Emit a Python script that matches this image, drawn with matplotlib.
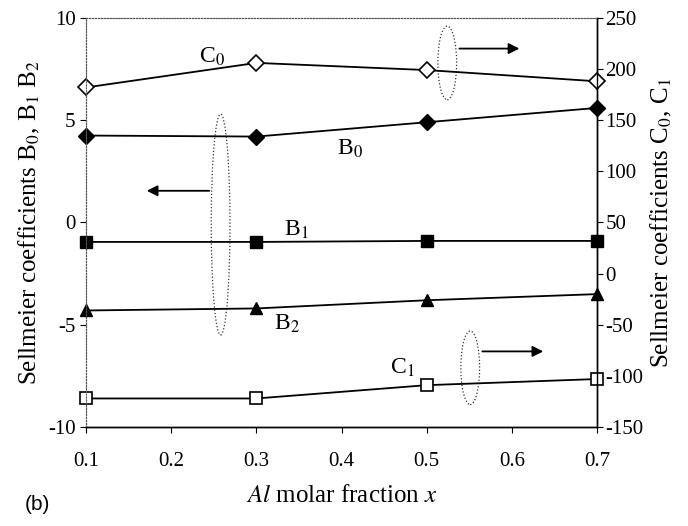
import matplotlib.pyplot as plt
from matplotlib.patches import Ellipse

# --- dati ---
x_al = [0.1, 0.3, 0.5, 0.7]

b0 = [4.25, 4.2, 4.9, 5.6]
b1 = [-0.95, -0.95, -0.9, -0.9]
b2 = [-4.3, -4.2, -3.8, -3.5]

c0 = [182, 206, 199, 188]
c1 = [-122, -122, -109, -103]

x_ticks = [0.1, 0.2, 0.3, 0.4, 0.5, 0.6, 0.7]
left_ticks = [-10, -5, 0, 5, 10]
right_ticks = [-150, -100, -50, 0, 50, 100, 150, 200, 250]

plt.rcParams['font.family'] = ['Liberation Serif', 'DejaVu Serif']
plt.rcParams['mathtext.fontset'] = 'stix'
plt.rcParams['axes.unicode_minus'] = False

fig = plt.figure(figsize=(6.88, 5.26), dpi=100)
ax = fig.add_axes([0.125, 0.188, 0.743, 0.778])
ax2 = ax.twinx()

line_kw = dict(color='black', linewidth=1.3, clip_on=False)

# serie asse sinistro
ax.plot(x_al, b0, marker='D', markersize=8, markerfacecolor='black', markeredgecolor='black', **line_kw)
ax.plot(x_al, b1, marker='s', markersize=9, markerfacecolor='black', markeredgecolor='black', **line_kw)
ax.plot(x_al, b2, marker='^', markersize=9, markerfacecolor='black', markeredgecolor='black', **line_kw)

# serie asse destro
ax2.plot(x_al, c0, marker='D', markersize=8, markerfacecolor='white', markeredgecolor='black', markeredgewidth=1.2, **line_kw)
ax2.plot(x_al, c1, marker='s', markersize=9, markerfacecolor='white', markeredgecolor='black', markeredgewidth=1.2, **line_kw)

ax.set_xlim(0.1, 0.7)
ax.set_ylim(-10, 10)
ax2.set_ylim(-150, 250)
ax.set_xticks(x_ticks)
ax.set_xticklabels([f"{t:.1f}" for t in x_ticks])
ax.set_yticks(left_ticks)
ax2.set_yticks(right_ticks)

ax.tick_params(axis='both', labelsize=15, direction='out', length=4, width=0.8)
ax.tick_params(axis='x', pad=14)
ax2.tick_params(axis='y', labelsize=15, direction='out', length=4, width=0.8, pad=2)

# bordi: sopra e sinistra tratteggiati
for a in (ax, ax2):
    a.spines['top'].set_linestyle(':')
    a.spines['top'].set_color('#555555')
    a.spines['left'].set_linestyle(':')
    a.spines['left'].set_color('#555555')
    a.spines['bottom'].set_linewidth(1.0)
    a.spines['right'].set_linewidth(1.0)

ax.set_ylabel(r"Sellmeier coefficients B$_0$, B$_1$ B$_2$", fontsize=18, labelpad=4)
ax2.set_ylabel(r"Sellmeier coefficients C$_0$, C$_1$", fontsize=18, labelpad=4)
ax.set_xlabel(r"$\it{Al}$ molar fraction $\it{x}$", fontsize=18, labelpad=10)

# etichette delle curve
ax.text(0.248, 8.1, r"C$_0$", fontsize=17, ha='center', va='center')
ax.text(0.41, 3.6, r"B$_0$", fontsize=17, ha='center', va='center')
ax.text(0.347, -0.35, r"B$_1$", fontsize=17, ha='center', va='center')
ax.text(0.336, -4.95, r"B$_2$", fontsize=17, ha='center', va='center')
ax.text(0.471, -7.1, r"C$_1$", fontsize=17, ha='center', va='center')

# ellissi e frecce
ell_kw = dict(fill=False, linestyle=':', linewidth=0.9, edgecolor='#333333')
ax.add_patch(Ellipse((0.524, 7.8), 0.022, 3.6, **ell_kw))
ax.add_patch(Ellipse((0.258, -0.1), 0.022, 10.8, **ell_kw))
ax.add_patch(Ellipse((0.551, -7.1), 0.022, 3.6, **ell_kw))

arrow_kw = dict(arrowstyle='-|>', color='black', linewidth=1.3, mutation_scale=16)
ax.annotate("", xy=(0.612, 8.5), xytext=(0.535, 8.5), arrowprops=arrow_kw)
ax.annotate("", xy=(0.168, 1.55), xytext=(0.248, 1.55), arrowprops=arrow_kw)
ax.annotate("", xy=(0.64, -6.3), xytext=(0.562, -6.3), arrowprops=arrow_kw)

fig.text(0.036, 0.03, "(b)", fontsize=15, family=['Liberation Sans', 'DejaVu Sans'])

fig.savefig("out.png", dpi=100)
